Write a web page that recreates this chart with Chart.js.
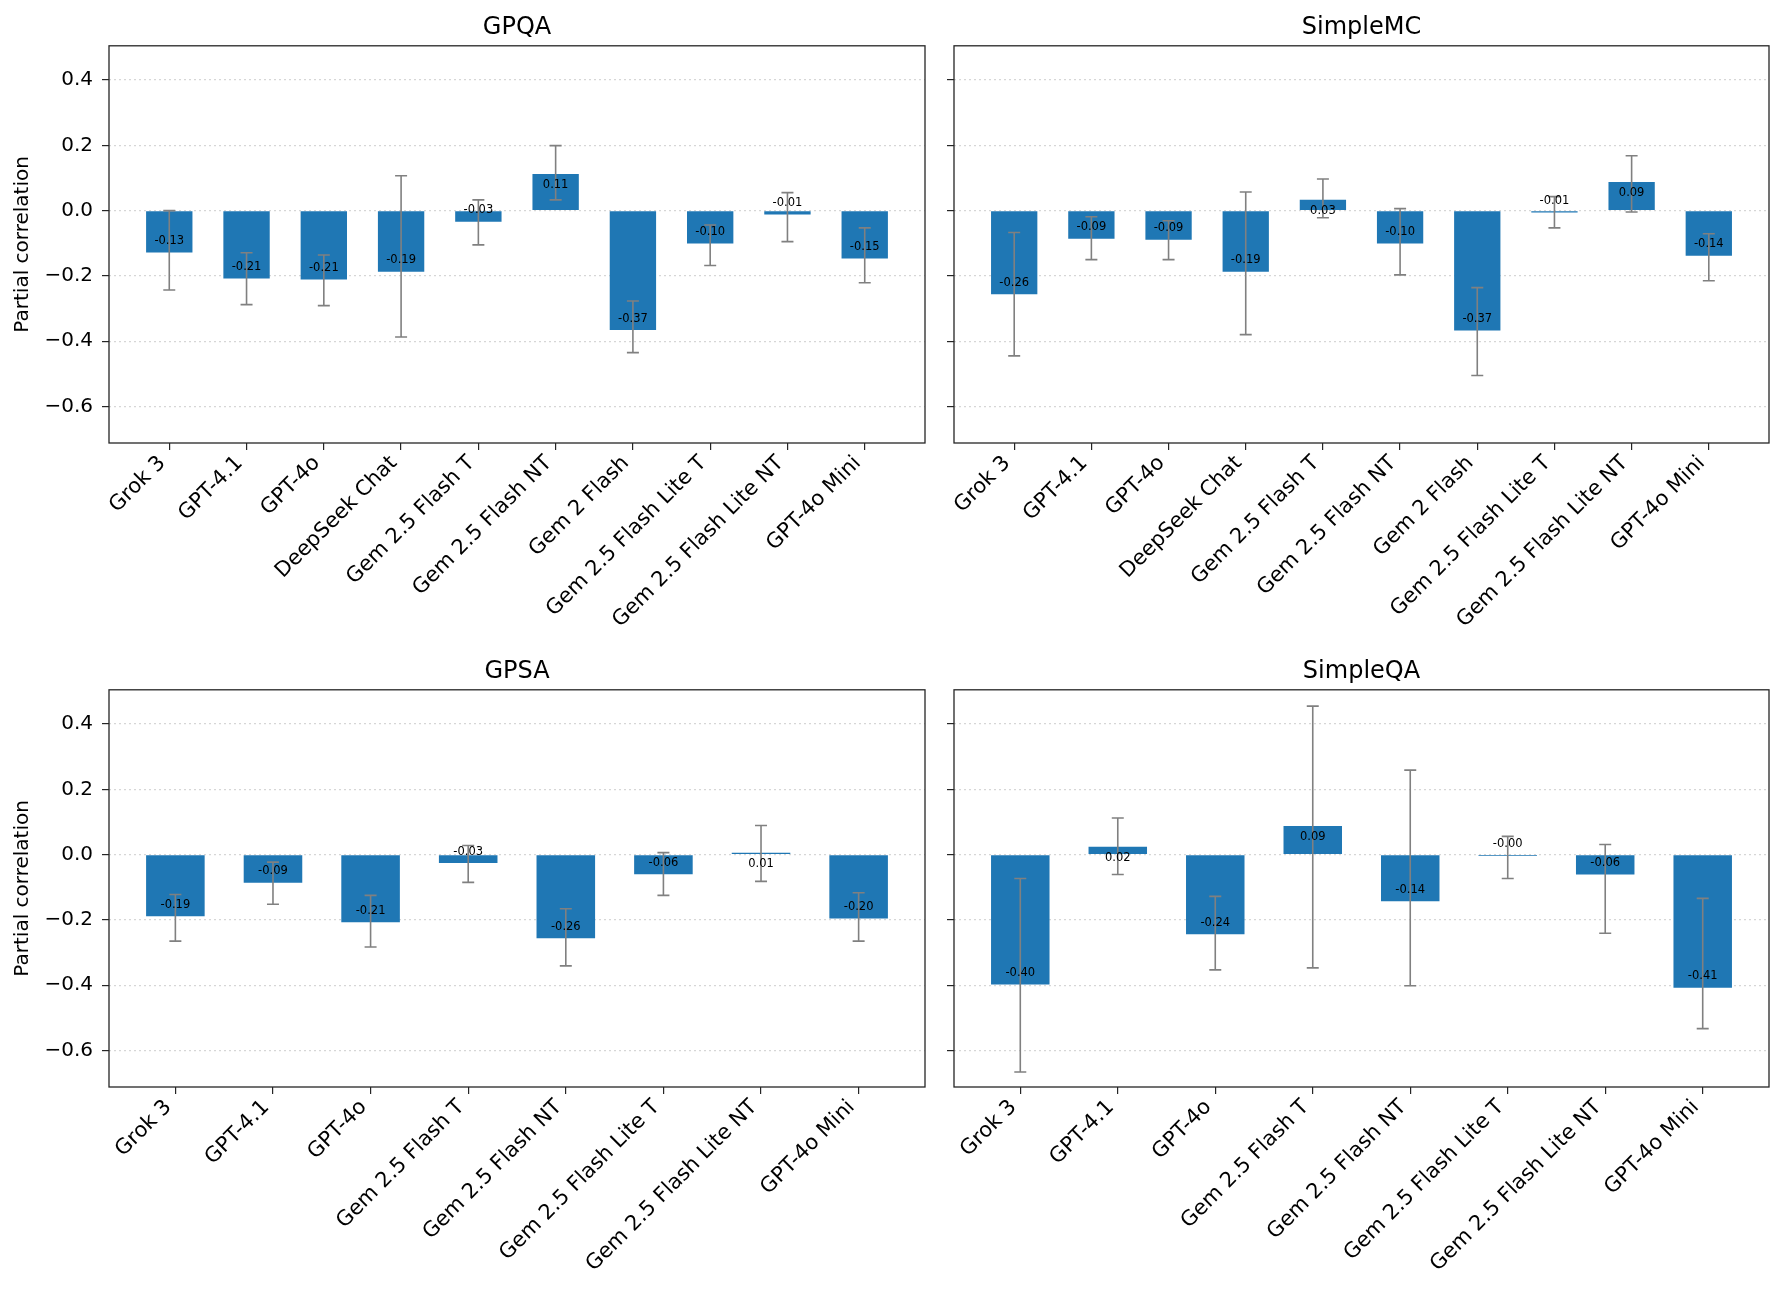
<!DOCTYPE html>
<html>
<head>
<meta charset="utf-8">
<script src="https://cdn.jsdelivr.net/npm/chart.js@4.4.1/dist/chart.umd.min.js"></script>
<style>
    body { margin: 0; background: #fff; }
    .panel { position: absolute; }
</style>
</head>
<body>
<canvas id="c1" class="panel" width="940" height="644" style="left:0;top:0"></canvas>
<canvas id="c2" class="panel" width="844" height="644" style="left:940px;top:0"></canvas>
<canvas id="c3" class="panel" width="940" height="650" style="left:0;top:644px"></canvas>
<canvas id="c4" class="panel" width="844" height="650" style="left:940px;top:644px"></canvas>
<script>
// models per row
const topModels = ["Grok 3", "GPT-4.1", "GPT-4o", "DeepSeek Chat", "Gem 2.5 Flash T", "Gem 2.5 Flash NT",
    "Gem 2 Flash", "Gem 2.5 Flash Lite T", "Gem 2.5 Flash Lite NT", "GPT-4o Mini"];
const bottomModels = ["Grok 3", "GPT-4.1", "GPT-4o", "Gem 2.5 Flash T", "Gem 2.5 Flash NT",
    "Gem 2.5 Flash Lite T", "Gem 2.5 Flash Lite NT", "GPT-4o Mini"];

// partial correlations + error bar ends
const gpqaValues = [-0.128, -0.208, -0.211, -0.187, -0.034, 0.112, -0.366, -0.101, -0.012, -0.147];
const gpqaLow    = [-0.243, -0.288, -0.291, -0.387, -0.105, 0.033, -0.435, -0.168, -0.095, -0.221];
const gpqaHigh   = [0.000, -0.129, -0.136, 0.107, 0.033, 0.199, -0.277, -0.044, 0.055, -0.053];

const simpleMcValues = [-0.256, -0.086, -0.089, -0.187, 0.033, -0.101, -0.367, -0.006, 0.088, -0.138];
const simpleMcLow    = [-0.445, -0.150, -0.150, -0.380, -0.022, -0.197, -0.505, -0.053, -0.004, -0.215];
const simpleMcHigh   = [-0.067, -0.019, -0.031, 0.057, 0.097, 0.006, -0.236, 0.043, 0.168, -0.071];

const gpsaValues = [-0.189, -0.086, -0.207, -0.026, -0.256, -0.060, 0.006, -0.196];
const gpsaLow    = [-0.265, -0.152, -0.283, -0.085, -0.341, -0.125, -0.082, -0.265];
const gpsaHigh   = [-0.122, -0.023, -0.125, 0.028, -0.166, 0.006, 0.089, -0.117];

const simpleQaValues = [-0.398, 0.024, -0.244, 0.088, -0.143, -0.002, -0.061, -0.408];
const simpleQaLow    = [-0.666, -0.061, -0.353, -0.347, -0.402, -0.073, -0.241, -0.533];
const simpleQaHigh   = [-0.073, 0.112, -0.128, 0.455, 0.259, 0.056, 0.031, -0.134];

const yTicks = [-0.6, -0.4, -0.2, 0.0, 0.2, 0.4];
const yMin = -0.712;
const yMax = 0.505;

const FONT = "'DejaVu Sans', sans-serif";
const AXIS_COLOR = "#262626";

function makePanel(canvasId, title, models, values, low, high, showYLabels, yAxisWidth) {
    const canvas = document.getElementById(canvasId);
    const n = models.length;
    const xPad = 0.3 + 0.05 * (n - 1 + 0.6);

    const extras = {
        id: "extras_" + canvasId,
        afterDatasetsDraw(chart) {
            const { ctx, scales: { x, y } } = chart;
            ctx.save();
            ctx.strokeStyle = "#808080";
            ctx.lineWidth = 1.6;
            for (let i = 0; i < n; i++) {
                const px = x.getPixelForValue(i);
                const top = y.getPixelForValue(high[i]);
                const bot = y.getPixelForValue(low[i]);
                ctx.beginPath();
                ctx.moveTo(px, top);
                ctx.lineTo(px, bot);
                ctx.moveTo(px - 6, top);
                ctx.lineTo(px + 6, top);
                ctx.moveTo(px - 6, bot);
                ctx.lineTo(px + 6, bot);
                ctx.stroke();
            }
            ctx.fillStyle = "#000";
            ctx.font = "11.5px " + FONT;
            ctx.textAlign = "center";
            ctx.textBaseline = "middle";
            for (let i = 0; i < n; i++) {
                const v = values[i];
                const ly = v > 0 ? v - 0.035 : v + 0.035;
                ctx.fillText(v.toFixed(2), x.getPixelForValue(i), y.getPixelForValue(ly));
            }
            ctx.restore();
        },
        afterDraw(chart) {
            const a = chart.chartArea;
            const ctx = chart.ctx;
            ctx.save();
            ctx.strokeStyle = AXIS_COLOR;
            ctx.lineWidth = 1.3;
            ctx.strokeRect(a.left, a.top, a.right - a.left, a.bottom - a.top);
            ctx.restore();
        }
    };

    return new Chart(canvas, {
        type: "bar",
        data: {
            datasets: [{
                data: values.map((v, i) => ({ x: i, y: v })),
                backgroundColor: "#1f77b4",
                borderWidth: 0,
                minBarLength: 1.5,
                barPercentage: 0.6,
                categoryPercentage: 1.0
            }]
        },
        options: {
            responsive: false,
            animation: false,
            devicePixelRatio: 1,
            layout: { padding: { top: 13, left: 0, right: 15, bottom: 0 } },
            plugins: {
                legend: { display: false },
                tooltip: { enabled: false },
                title: {
                    display: true,
                    fullSize: false,
                    text: title,
                    color: "#000",
                    font: { family: FONT, size: 24, weight: "normal" },
                    padding: { top: 0, bottom: 4 }
                }
            },
            scales: {
                x: {
                    type: "linear",
                    offset: false,
                    min: -xPad,
                    max: n - 1 + xPad,
                    afterBuildTicks: (scale) => {
                        scale.ticks = models.map((_, i) => ({ value: i }));
                    },
                    afterFit: (scale) => {
                        scale.height = canvas.height - 443;
                    },
                    ticks: {
                        autoSkip: false,
                        minRotation: 45,
                        maxRotation: 45,
                        padding: 1,
                        labelOffset: -7,
                        color: "#000",
                        font: { family: FONT, size: 21 },
                        callback: (v) => models[v]
                    },
                    grid: {
                        offset: false,
                        drawOnChartArea: false,
                        drawTicks: true,
                        tickLength: 7,
                        tickColor: AXIS_COLOR,
                        lineWidth: 1.2
                    },
                    border: { display: false }
                },
                y: {
                    min: yMin,
                    max: yMax,
                    afterBuildTicks: (scale) => {
                        scale.ticks = yTicks.map(v => ({ value: v }));
                    },
                    afterFit: (scale) => {
                        scale.width = yAxisWidth;
                    },
                    ticks: {
                        padding: 9,
                        color: "#000",
                        font: { family: FONT, size: 20 },
                        callback: (v) => showYLabels ? v.toFixed(1).replace("-", "\u2212") : ""
                    },
                    grid: {
                        color: "rgba(180,180,180,0.55)",
                        lineWidth: 1.2,
                        drawTicks: true,
                        tickLength: 7,
                        tickColor: AXIS_COLOR,
                        tickBorderDash: []
                    },
                    border: { display: false, dash: [2, 3] },
                    title: {
                        display: showYLabels,
                        text: "Partial correlation",
                        color: "#000",
                        font: { family: FONT, size: 20 },
                        padding: { top: 11, bottom: 0 }
                    }
                }
            }
        },
        plugins: [extras]
    });
}

makePanel("c1", "GPQA", topModels, gpqaValues, gpqaLow, gpqaHigh, true, 109);
makePanel("c2", "SimpleMC", topModels, simpleMcValues, simpleMcLow, simpleMcHigh, false, 14);
makePanel("c3", "GPSA", bottomModels, gpsaValues, gpsaLow, gpsaHigh, true, 109);
makePanel("c4", "SimpleQA", bottomModels, simpleQaValues, simpleQaLow, simpleQaHigh, false, 14);
</script>
</body>
</html>
